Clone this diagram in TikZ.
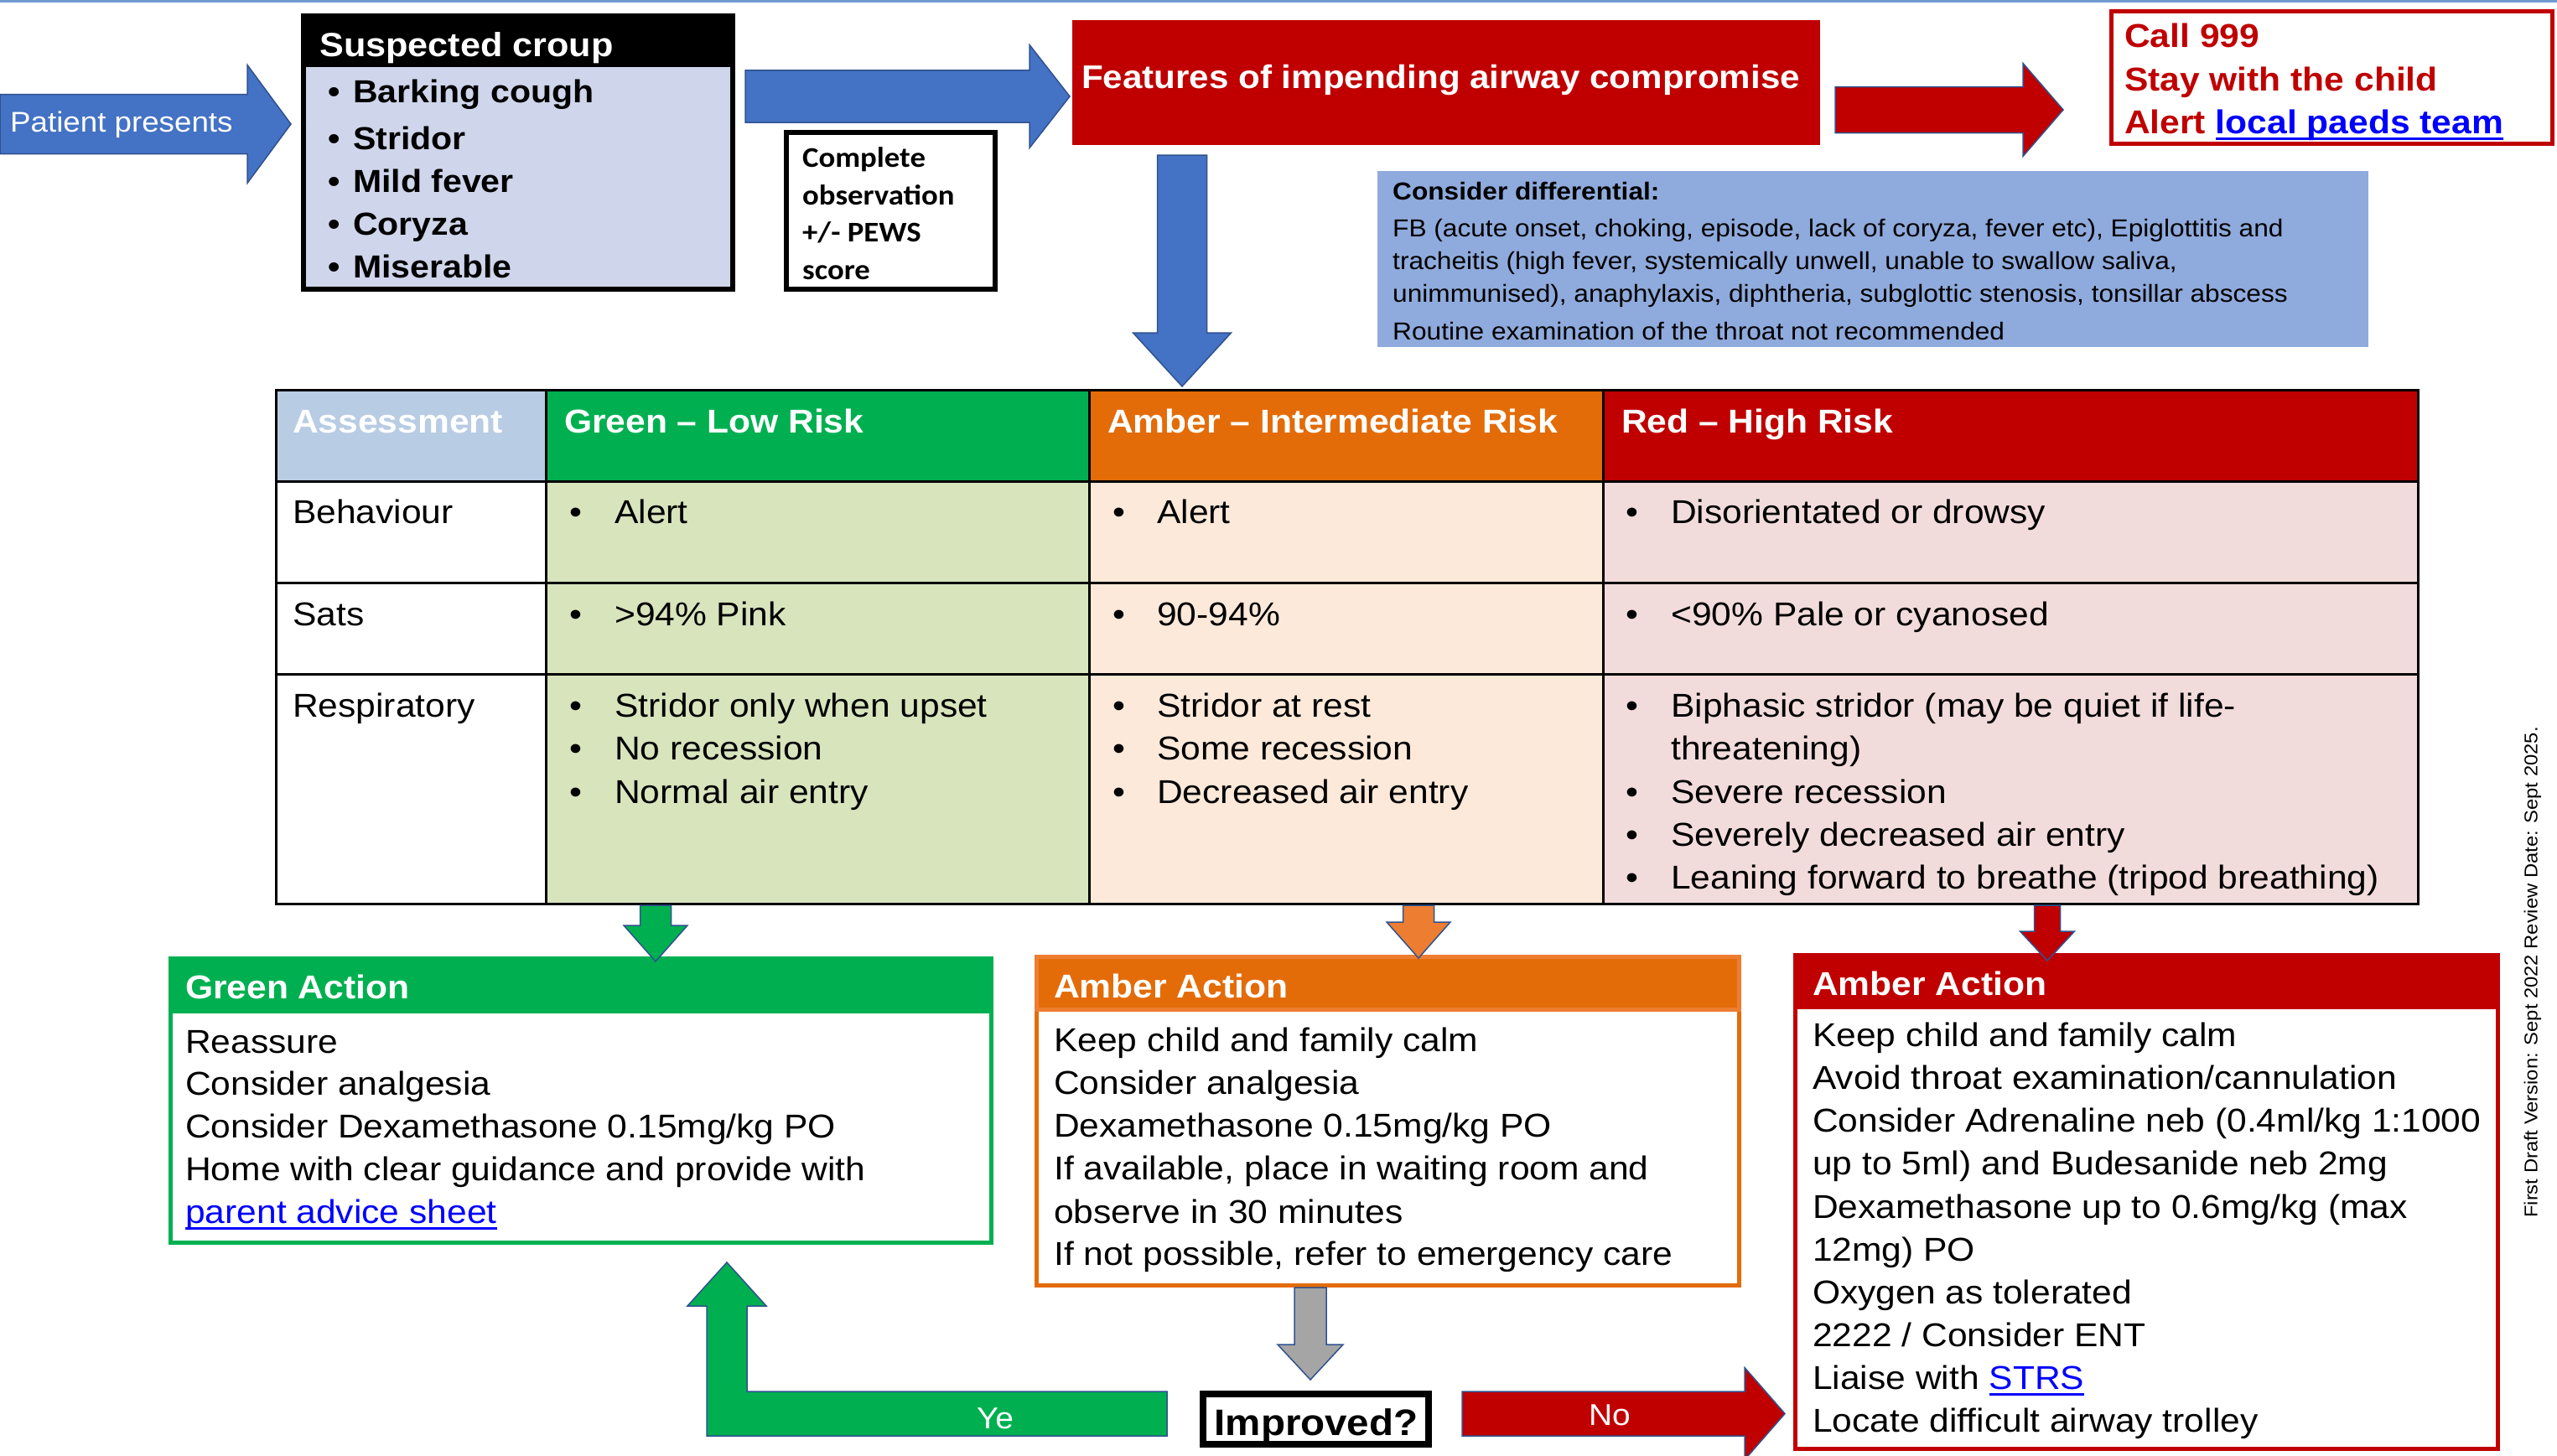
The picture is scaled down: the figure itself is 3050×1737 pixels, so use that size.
\documentclass[tikz,border=0pt]{standalone}
\usepackage{fontspec}
\setmainfont{Liberation Sans}[FakeStretch=1.08]
\newfontfamily\obsfont{Carlito}[FakeStretch=1.08]
\usepackage{xcolor}
\usetikzlibrary{calc}

\definecolor{arrowblue}{HTML}{4472C4}
\definecolor{edgeblue}{HTML}{2F528F}
\definecolor{topblue}{HTML}{6F9AD0}
\definecolor{croupfill}{HTML}{CFD5EA}
\definecolor{alarmred}{HTML}{C00000}
\definecolor{diffblue}{HTML}{8FAADC}
\definecolor{assesshead}{HTML}{B8CCE4}
\definecolor{lowgreen}{HTML}{00B050}
\definecolor{midamber}{HTML}{E36C09}
\definecolor{amberedge}{HTML}{ED7D31}
\definecolor{greenbody}{HTML}{D8E4BC}
\definecolor{amberbody}{HTML}{FDE9D9}
\definecolor{redbody}{HTML}{F2DCDB}
\definecolor{waitgrey}{HTML}{A5A5A5}
\definecolor{linkblue}{HTML}{0000FF}

\newsavebox{\lnkbox}
\newcommand{\lnk}[1]{\textcolor{linkblue}{\sbox{\lnkbox}{#1}\rlap{\rule[-8pt]{\wd\lnkbox}{3pt}}\usebox{\lnkbox}}}
% block arrow: style, tail, tip, half shaft, half head, head length
\newcommand{\fatarrow}[6]{%
  \coordinate (fa-base) at ($(#3)!#6!(#2)$);
  \filldraw[#1] ($(#2)!#4!90:(#3)$) -- ($(fa-base)!#4!90:(#3)$)
    -- ($(fa-base)!#5!90:(#3)$) -- (#3)
    -- ($(fa-base)!#5!-90:(#3)$) -- ($(fa-base)!#4!-90:(#3)$)
    -- ($(#2)!#4!-90:(#3)$) -- cycle;
}

\tikzset{
  panel/.style={rectangle, inner sep=0pt, outer sep=0pt, anchor=north west},
  bodytext/.style={anchor=base west, inner sep=0pt, font=\fontsize{39.4}{47}\selectfont},
  boldtext/.style={bodytext, font=\fontsize{39.4}{47}\selectfont\bfseries},
  titletext/.style={boldtext, text=white},
  blockarrow/.style={draw=edgeblue, line width=1.5pt, fill=#1},
  gridline/.style={line width=3pt, draw=black},
}

\begin{document}
\begin{tikzpicture}[x=1pt, y=-1pt]
    \useasboundingbox (0,0) rectangle (3050,1737);
    \draw[topblue, line width=3pt] (0,1.5) -- (3050,1.5);

    % Patient presents
    \coordinate (pp-tail) at (0,148);
    \coordinate (pp-tip) at (347,148);
    \fatarrow{blockarrow=arrowblue}{pp-tail}{pp-tip}{35.5pt}{70.5pt}{52pt}
    \node[bodytext, text=white, font=\fontsize{34}{40}\selectfont] (pp-txt) at (12,157) {Patient presents};

    % Suspected croup
    \node[panel, fill=croupfill, draw=black, line width=6pt, minimum width=512pt, minimum height=326pt] (croup) at (362,19) {};
    \node[panel, fill=black, minimum width=512pt, minimum height=61pt] (croup-head) at (362,19) {};
    \node[titletext, font=\fontsize{40}{48}\selectfont\bfseries] (croup-title) at (381,68) {Suspected croup};
    \foreach \y/\t [count=\i] in {122/{Barking cough}, 178/Stridor, 229/{Mild fever}, 280/Coryza, 331/Miserable} {
        \node[boldtext, font=\fontsize{38}{46}\selectfont\bfseries] (sym-dot\i) at (391,\y) {•};
        \node[boldtext, font=\fontsize{38}{46}\selectfont\bfseries] (sym\i) at (421,\y) {\t};
    }

    % Observation box
    \node[panel, fill=white, draw=black, line width=6pt, minimum width=249pt, minimum height=187pt] (obs) at (938,158) {};
    \foreach \y/\t [count=\i] in {199/Complete, 244/observation, 288/{+/- PEWS}, 333/score}
        \node[bodytext, font=\obsfont\fontsize{34}{40}\selectfont\bfseries] (obs\i) at (957,\y) {\t};

    \coordinate (adv-tail) at (889,115);
    \coordinate (adv-tip) at (1276,115);
    \fatarrow{blockarrow=arrowblue}{adv-tail}{adv-tip}{31pt}{61.5pt}{48pt}

    % Impending airway compromise
    \node[panel, fill=alarmred, minimum width=892pt, minimum height=149pt] (feat) at (1279,24) {};
    \node[titletext, font=\fontsize{39}{47}\selectfont\bfseries] (feat-txt) at (1290,106) {Features of impending airway compromise};

    \coordinate (esc-tail) at (2189,131);
    \coordinate (esc-tip) at (2461,131);
    \fatarrow{blockarrow=alarmred}{esc-tail}{esc-tip}{27.5pt}{55.5pt}{48pt}

    \node[panel, fill=white, draw=alarmred, line width=5pt, minimum width=526pt, minimum height=157pt] (call) at (2518,14) {};
    \node[boldtext, text=alarmred] (call1) at (2534,57) {Call 999};
    \node[boldtext, text=alarmred] (call2) at (2534,108) {Stay with the child};
    \node[boldtext, text=alarmred] (call3) at (2534,159) {Alert \lnk{local paeds team}};

    % Differential
    \node[panel, fill=diffblue, minimum width=1182pt, minimum height=210pt] (diff) at (1643,204) {};
    \node[boldtext, font=\fontsize{29.3}{35}\selectfont\bfseries] (diff-title) at (1661,238) {Consider differential:};
    \foreach \y/\t [count=\i] in {282/{FB (acute onset, choking, episode, lack of coryza, fever etc), Epiglottitis and},
        321/{tracheitis (high fever, systemically unwell, unable to swallow saliva,},
        360/{unimmunised), anaphylaxis, diphtheria, subglottic stenosis, tonsillar abscess},
        405/{Routine examination of the throat not recommended}}
        \node[bodytext, font=\fontsize{29.3}{35}\selectfont] (diff\i) at (1661,\y) {\t};

    \coordinate (ass-tail) at (1410,185);
    \coordinate (ass-tip) at (1410,461);
    \fatarrow{blockarrow=arrowblue}{ass-tail}{ass-tip}{29.5pt}{58.5pt}{64pt}

    % Assessment table
    \node[panel, fill=assesshead, minimum width=322pt, minimum height=109pt] (h-ass) at (329,465) {};
    \node[panel, fill=lowgreen, minimum width=648pt, minimum height=109pt] (h-low) at (651,465) {};
    \node[panel, fill=midamber, minimum width=613pt, minimum height=109pt] (h-mid) at (1299,465) {};
    \node[panel, fill=alarmred, minimum width=972pt, minimum height=109pt] (h-high) at (1912,465) {};
    \node[panel, fill=white, minimum width=322pt, minimum height=504pt] (b-ass) at (329,574) {};
    \node[panel, fill=greenbody, minimum width=648pt, minimum height=504pt] (b-low) at (651,574) {};
    \node[panel, fill=amberbody, minimum width=613pt, minimum height=504pt] (b-mid) at (1299,574) {};
    \node[panel, fill=redbody, minimum width=972pt, minimum height=504pt] (b-high) at (1912,574) {};
    \foreach \y in {574,695,804}
        \draw[gridline] (329,\y) -- (2884,\y);
    \foreach \x in {651,1299,1912}
        \draw[gridline] (\x,465) -- (\x,1078);
    \draw[gridline] (h-ass.north west) rectangle (b-high.south east);

    \node[titletext] (t-ass) at (349,516) {Assessment};
    \node[titletext] (t-low) at (673,516) {Green – Low Risk};
    \node[titletext] (t-mid) at (1321,516) {Amber – Intermediate Risk};
    \node[titletext] (t-high) at (1934,516) {Red – High Risk};
    \node[bodytext] (r-beh) at (349,624) {Behaviour};
    \node[bodytext] (r-sat) at (349,746) {Sats};
    \node[bodytext] (r-resp) at (349,855) {Respiratory};

    \foreach \y/\t [count=\i] in {624/Alert, 746/{>94\% Pink}, 855/{Stridor only when upset}, 906/{No recession}, 958/{Normal air entry}} {
        \node[bodytext] (low-dot\i) at (679,\y) {•};
        \node[bodytext] (low\i) at (733,\y) {\t};
    }
    \foreach \y/\t [count=\i] in {624/Alert, 746/{90-94\%}, 855/{Stridor at rest}, 906/{Some recession}, 958/{Decreased air entry}} {
        \node[bodytext] (mid-dot\i) at (1327,\y) {•};
        \node[bodytext] (mid\i) at (1380,\y) {\t};
    }
    \foreach \y [count=\i] in {624,746,855,958,1009,1060}
        \node[bodytext] (high-dot\i) at (1939,\y) {•};
    \foreach \y/\t [count=\i] in {624/{Disorientated or drowsy}, 746/{<90\% Pale or cyanosed}, 855/{Biphasic stridor (may be quiet if life-},
        906/{threatening)}, 958/{Severe recession}, 1009/{Severely decreased air entry}, 1060/{Leaning forward to breathe (tripod breathing)}}
        \node[bodytext] (high\i) at (1993,\y) {\t};

    % Green action
    \node[panel, fill=white, draw=lowgreen, line width=5pt, minimum width=979pt, minimum height=339pt] (gact) at (203.5,1143.5) {};
    \node[panel, fill=lowgreen, draw=lowgreen, line width=5pt, minimum width=979pt, minimum height=63pt] (gact-head) at (203.5,1143.5) {};
    \node[titletext] (gact-title) at (221,1191) {Green Action};
    \foreach \y/\t [count=\i] in {1256/Reassure, 1306/{Consider analgesia}, 1357/{Consider Dexamethasone 0.15mg/kg PO},
        1408/{Home with clear guidance and provide with}, 1459/{\lnk{parent advice sheet}}}
        \node[bodytext] (gact\i) at (221,\y) {\t};

    % Amber action
    \node[panel, fill=white, draw=midamber, line width=5pt, minimum width=838pt, minimum height=392pt] (aact) at (1236.5,1141.5) {};
    \node[panel, fill=midamber, draw=amberedge, line width=5pt, minimum width=838pt, minimum height=63pt] (aact-head) at (1236.5,1141.5) {};
    \node[titletext] (aact-title) at (1257,1190) {Amber Action};
    \foreach \y/\t [count=\i] in {1254/{Keep child and family calm}, 1305/{Consider analgesia}, 1356/{Dexamethasone 0.15mg/kg PO},
        1407/{If available, place in waiting room and}, 1459/{observe in 30 minutes}, 1509/{If not possible, refer to emergency care}}
        \node[bodytext] (aact\i) at (1257,\y) {\t};

    % High risk action
    \node[panel, fill=white, draw=alarmred, line width=5pt, minimum width=838pt, minimum height=589pt] (ract) at (2141.5,1139.5) {};
    \node[panel, fill=alarmred, draw=alarmred, line width=5pt, minimum width=838pt, minimum height=62pt] (ract-head) at (2141.5,1139.5) {};
    \node[titletext] (ract-title) at (2162,1187) {Amber Action};
    \foreach \y/\t [count=\i] in {1248/{Keep child and family calm}, 1299/{Avoid throat examination/cannulation},
        1350/{Consider Adrenaline neb (0.4ml/kg 1:1000}, 1401/{up to 5ml) and Budesanide neb 2mg},
        1453/{Dexamethasone up to 0.6mg/kg (max}, 1504/{12mg) PO}, 1555/{Oxygen as tolerated},
        1606/{2222 / Consider ENT}, 1657/{Liaise with \lnk{STRS}}, 1708/{Locate difficult airway trolley}}
        \node[bodytext] (ract\i) at (2162,\y) {\t};

    % Arrows to actions
    \coordinate (low-tail) at (782,1080);
    \coordinate (low-tip) at (782,1147);
    \fatarrow{blockarrow=lowgreen}{low-tail}{low-tip}{18.5pt}{38pt}{43pt}
    \coordinate (mid-tail) at (1692,1080);
    \coordinate (mid-tip) at (1692,1143);
    \fatarrow{blockarrow=amberedge}{mid-tail}{mid-tip}{18.5pt}{38pt}{43pt}
    \coordinate (high-tail) at (2442,1080);
    \coordinate (high-tip) at (2442,1146);
    \fatarrow{blockarrow=alarmred}{high-tail}{high-tip}{15.5pt}{32.5pt}{35pt}

    % Review
    \coordinate (wait-tail) at (1563,1536);
    \coordinate (wait-tip) at (1563,1646);
    \fatarrow{blockarrow=waitgrey}{wait-tail}{wait-tip}{19pt}{39pt}{42pt}
    \node[panel, fill=white, draw=black, line width=8pt, minimum width=269pt, minimum height=60pt] (impr) at (1435,1663) {};
    \node[boldtext, anchor=base, font=\fontsize{44}{52}\selectfont\bfseries] (impr-txt) at (1570,1712) {Improved?};

    \filldraw[blockarrow=lowgreen] (1392,1660) -- (891,1660) -- (891,1558) -- (914,1558) -- (867,1506)
        -- (820,1558) -- (843,1558) -- (843,1713) -- (1392,1713) -- cycle;
    \node[bodytext, anchor=base, text=white, font=\fontsize{36}{42}\selectfont] (yes-txt) at (1187,1704) {Ye};

    \coordinate (no-tail) at (1744,1686.5);
    \coordinate (no-tip) at (2129,1686.5);
    \fatarrow{blockarrow=alarmred}{no-tail}{no-tip}{26.5pt}{55pt}{48pt}
    \node[bodytext, anchor=base, text=white, font=\fontsize{36}{42}\selectfont] (no-txt) at (1920,1700) {No};

    \node[rotate=90, inner sep=0pt, font=\fontsize{22}{26}\selectfont] (version) at (3021,1160) {First Draft Version: Sept 2022 Review Date: Sept 2025.};
\end{tikzpicture}
\end{document}
